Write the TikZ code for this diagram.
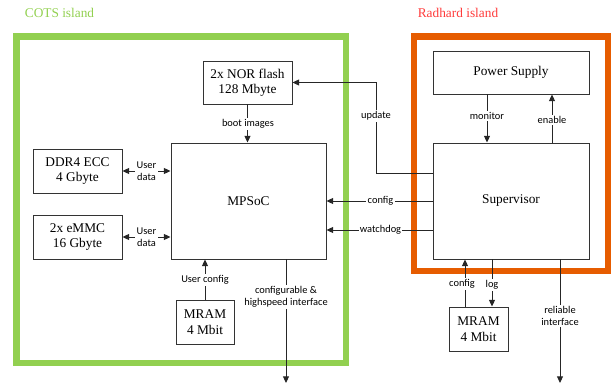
\documentclass[tikz,border=0pt]{standalone}
\usepackage{fontspec}
\setmainfont{Liberation Serif}
\newfontfamily\labelfont{Carlito}
\usetikzlibrary{arrows.meta,positioning}
\definecolor{cotsgreen}{HTML}{92D050}
\definecolor{radorange}{HTML}{E65C00}
\definecolor{radred}{HTML}{FF3B3B}

\begin{document}
\begin{tikzpicture}[x=0.75pt,y=-0.75pt,
  every node/.style={font=\fontsize{10}{11.5}\selectfont},
  unit/.style={draw=black!80,line width=0.7pt,align=center,inner sep=0pt},
  sig/.style={draw=black!85,line width=0.7pt,-{Triangle[length=5pt,width=4.5pt]}},
  bisig/.style={sig,{Triangle[length=5pt,width=4.5pt]}-{Triangle[length=5pt,width=4.5pt]}},
  lab/.style={font=\labelfont\fontsize{7.8}{9}\selectfont,fill=white,inner sep=1pt,align=center},
  island/.style={line width=4.9pt}]
  \useasboundingbox (0,0) rectangle (611,385);

  % islands
  \draw[island,cotsgreen] (16.5,36.5) rectangle (346,363);
  \draw[island,radorange] (414,36.5) rectangle (608.5,271);
  \node[text=cotsgreen] (cotstitle) at (59.5,13) {COTS island};
  \node[text=radred] (radtitle) at (458,13) {Radhard island};

  % COTS components
  \node[unit,minimum width=66.75pt,minimum height=32.25pt] (nor) at (247.5,82.5) {2x NOR flash\\128 Mbyte};
  \node[unit,minimum width=116.25pt,minimum height=87pt] (mpsoc) at (248.5,201) {MPSoC};
  \node[unit,minimum width=66.75pt,minimum height=33pt] (ddr) at (77.5,171) {DDR4 ECC\\4 Gbyte};
  \node[unit,minimum width=66.75pt,minimum height=33pt] (emmc) at (77.5,237) {2x eMMC\\16 Gbyte};
  \node[unit,minimum width=43.5pt,minimum height=33pt] (mramc) at (205,322) {MRAM\\4 Mbit};

  % Radhard components
  \node[unit,minimum width=117pt,minimum height=32.25pt] (ps) at (511,72.5) {Power Supply};
  \node[unit,minimum width=117pt,minimum height=87pt] (sup) at (511,201) {Supervisor};
  \node[unit,minimum width=44.25pt,minimum height=33pt] (mramr) at (478.5,329) {MRAM\\4 Mbit};

  % helper points
  \coordinate (updbend) at (376,173);
  \coordinate (hsend) at (286,383);
  \coordinate (relend) at (560,383);
  \coordinate (monpt) at ([xshift=-18pt]ps.south);
  \coordinate (enpt) at ([xshift=30.75pt]sup.north);
  \coordinate (wdpt) at ([yshift=-21.75pt]sup.west);
  \coordinate (cfgpt) at ([xshift=-10.125pt]mramr.north);
  \coordinate (logpt) at ([xshift=10.125pt]mramr.north);

  % connectors
  \draw[sig] (updbend -| sup.west) -- (updbend) |- (nor.east);
  \draw[sig] (nor.south) -- (nor.south |- mpsoc.north);
  \draw[bisig] (ddr.east) -- (ddr.east -| mpsoc.west);
  \draw[bisig] (emmc.east) -- (emmc.east -| mpsoc.west);
  \draw[sig] (mramc.north) -- (mramc.north |- mpsoc.south);
  \draw[sig] (hsend |- mpsoc.south) -- (hsend);
  \draw[sig] (monpt) -- (monpt |- sup.north);
  \draw[sig] (enpt) -- (enpt |- ps.south);
  \draw[sig] (sup.west) -- (mpsoc.east);
  \draw[sig] (wdpt) -- (wdpt -| mpsoc.east);
  \draw[sig] (cfgpt) -- (cfgpt |- sup.south);
  \draw[sig] (logpt |- sup.south) -- (logpt);
  \draw[sig] (relend |- sup.south) -- (relend);

  % labels
  \node[lab] (updlab) at (376,116) {update};
  \node[lab] (bootlab) at (248,124) {boot images};
  \node[lab] (ddrlab) at (146.5,171.5) {User\\data};
  \node[lab] (emmclab) at (146.5,237.5) {User\\data};
  \node[lab] (ucfglab) at (205,280) {User config};
  \node[lab] (hslab) at (286,297) {configurable \&\\highspeed interface};
  \node[lab] (monlab) at (487,116) {monitor};
  \node[lab] (enlab) at (552,120) {enable};
  \node[lab] (cfglab) at (380.5,201) {config};
  \node[lab] (wdlab) at (380.5,230) {watchdog};
  \node[lab] (scfglab) at (462,284) {config};
  \node[lab] (loglab) at (492,285) {log};
  \node[lab] (rellab) at (560,316) {reliable\\interface};
\end{tikzpicture}
\end{document}
